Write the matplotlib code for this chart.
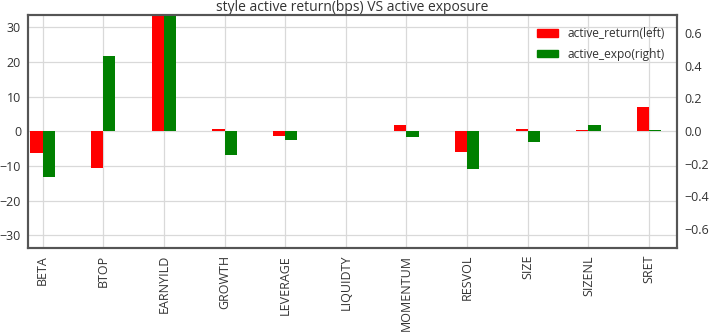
import matplotlib
matplotlib.use("Agg")
import matplotlib.pyplot as plt
import numpy as np
from matplotlib.patches import Patch

categories = ["BETA", "BTOP", "EARNYILD", "GROWTH", "LEVERAGE", "LIQUIDTY",
              "MOMENTUM", "RESVOL", "SIZE", "SIZENL", "SRET"]
active_return = [-6.3, -10.7, 45.0, 0.7, -1.4, 0.2, 1.8, -6.0, 0.6, 0.4, 7.0]
active_expo = [-0.283, 0.46, 0.9, -0.147, -0.055, 0.003, -0.039, -0.232, -0.065, 0.035, 0.005]

plt.rcParams['font.family'] = ['Open Sans', 'DejaVu Sans']

fig = plt.figure(figsize=(7.14, 3.35), dpi=100)
ax = fig.add_axes([28/714, 1 - 248/335, (677-28)/714, (248-15)/335])
ax2 = ax.twinx()

x = np.arange(len(categories))
w = 0.2
ax.bar(x - w/2, active_return, width=w, color='#ff0000', zorder=2)
ax2.bar(x + w/2, active_expo, width=w, color='#008000', zorder=2)

ax.set_xlim(-0.24, 10.46)
ax.set_ylim(-33.6, 33.5)
ax2.set_ylim(-0.715, 0.71)
ax.set_yticks([-30, -20, -10, 0, 10, 20, 30])
ax2.set_yticks([-0.6, -0.4, -0.2, 0.0, 0.2, 0.4, 0.6])
ax2.set_yticklabels(['\u22120.6', '\u22120.4', '\u22120.2', '0.0', '0.2', '0.4', '0.6'])
ax.set_yticklabels(['\u221230', '\u221220', '\u221210', '0', '10', '20', '30'])
ax.set_xticks(x)
ax.set_xticklabels(categories, rotation=90)

ax.grid(True, color='#d9d9d9', linewidth=0.9, zorder=0)
ax.set_axisbelow(True)
ax2.grid(False)
for a in (ax, ax2):
    a.tick_params(length=0, labelsize=9, colors='#333333', pad=5)
    for s in a.spines.values():
        s.set_color('#555555')
        s.set_linewidth(1.5)

ax.set_title("style active return(bps) VS active exposure", fontsize=10, color='#333333', pad=3)

handles = [Patch(color='#ff0000'), Patch(color='#008000')]
leg = ax2.legend(handles, ["active_return(left)", "active_expo(right)"], loc='upper right',
                 frameon=False, fontsize=8.6, handlelength=1.8, handleheight=0.65,
                 handletextpad=0.8, labelcolor='#333333', borderaxespad=0.6,
                 labelspacing=0.65)

fig.savefig("out.png", dpi=100)
